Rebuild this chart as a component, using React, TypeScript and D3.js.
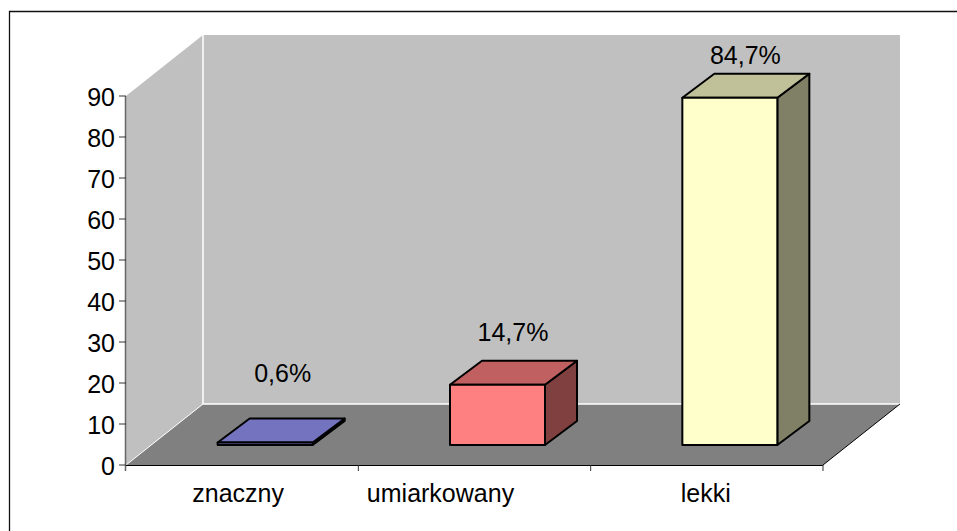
import * as d3 from "d3";

const categories = ["znaczny", "umiarkowany", "lekki"];
const values = [0.6, 14.7, 84.7];
const labels = ["0,6%", "14,7%", "84,7%"];
const frontColors = ["#7373c0", "#ff8080", "#ffffcc"];
const topColors = ["#7373c0", "#c06060", "#c0c099"];
const sideColors = ["#565690", "#804040", "#808066"];
const ticks = d3.range(0, 100, 10);
// hand placed offsets, the original chart doesn't centre these
const categoryShift = [-4, -34, -1];
const labelLift = [36.5, 20, 10];
const labelShift = [65, 63, 63];

const width = 957;
const height = 531;
const left = 126;
const right = 823;
const bottom = 465;
const top90 = 96;
// depth of the whole floor and of one bar
const depthX = 77;
const depthY = 61;
const barWidth = 95;
const barDepthX = 32;
const barDepthY = 24;
const barShiftX = 23;
const barShiftY = 20;

const step = (right - left) / categories.length;
const x = d3
  .scaleBand()
  .domain(categories)
  .range([left, right])
  .paddingInner(1 - barWidth / step)
  .paddingOuter((1 - barWidth / step) / 2);
const y = d3.scaleLinear().domain([0, 90]).range([bottom, top90]);
const poly = d3.line();

export default function App() {
  const wallTop = top90 - depthY;
  return (
    <svg
      width={width}
      height={height}
      style={{ position: "absolute", left: 0, top: 0 }}
      fontFamily="'Liberation Sans', Arial, sans-serif"
    >
      {/* frame is cut off on the right and at the bottom */}
      <path d={poly([[9.5, height], [9.5, 11.5], [width, 11.5]])!} fill="none" stroke="#111" strokeWidth={1.3} />

      {/* walls */}
      <rect x={left + depthX} y={wallTop} width={right - left} height={bottom - top90} fill="#c0c0c0" />
      <path
        d={poly([[left, top90], [left + depthX, wallTop], [left + depthX, bottom - depthY], [left, bottom]])!}
        fill="#c0c0c0"
      />
      <path
        d={poly([[left + depthX, bottom - depthY], [left, bottom], [right, bottom], [right + depthX, bottom - depthY]])!}
        fill="#808080"
      />
      <path
        d={poly([[left + depthX, wallTop], [left + depthX, bottom - depthY], [right + depthX, bottom - depthY]])!}
        fill="none"
        stroke="#fff"
        strokeWidth={1.5}
      />
      <line x1={left} y1={bottom} x2={left + depthX} y2={bottom - depthY} stroke="#fff" />
      <line x1={right} y1={bottom} x2={right + depthX} y2={bottom - depthY} stroke="#000" />

      {/* axes */}
      <line x1={left - 0.5} y1={top90} x2={left - 0.5} y2={bottom + 6} stroke="#666" strokeWidth={1.5} />
      <line x1={left} y1={bottom + 0.5} x2={right} y2={bottom + 0.5} stroke="#000" strokeWidth={1} />
      {ticks.map((t) => (
        <g key={t}>
          <line x1={left - 7} x2={left} y1={y(t)} y2={y(t)} stroke="#333" />
          <text x={left - 11} y={y(t) + 9.5} textAnchor="end" fontSize={25} fill="#000">
            {t}
          </text>
        </g>
      ))}
      {d3.range(1, 4).map((i) => {
        const px = left + i * step;
        return <line key={i} x1={px} x2={px} y1={bottom} y2={bottom + 6} stroke="#333" />;
      })}
      {categories.map((c, i) => (
        <text
          key={c}
          x={x(c)! + x.bandwidth() / 2 + categoryShift[i]}
          y={502}
          textAnchor="middle"
          fontSize={25}
          fill="#000"
        >
          {c}
        </text>
      ))}

      {/* bars */}
      {categories.map((c, i) => {
        const x0 = x(c)! + barShiftX;
        const x1 = x0 + x.bandwidth();
        const yb = bottom - barShiftY;
        const yt = y(values[i]) - barShiftY;
        const dx = barDepthX;
        const dy = barDepthY;
        return (
          <g key={c} stroke="#000" strokeWidth={2} strokeLinejoin="round">
            <path
              d={poly([[x1, yb], [x1 + dx, yb - dy], [x1 + dx, yt - dy], [x1, yt]])! + "Z"}
              fill={sideColors[i]}
            />
            <path
              d={poly([[x0, yt], [x0 + dx, yt - dy], [x1 + dx, yt - dy], [x1, yt]])! + "Z"}
              fill={topColors[i]}
            />
            <rect x={x0} y={yt} width={x.bandwidth()} height={yb - yt} fill={frontColors[i]} />
            <text
              x={x0 + labelShift[i]}
              y={yt - dy - labelLift[i]}
              textAnchor="middle"
              fontSize={25}
              fill="#000"
              stroke="none"
            >
              {labels[i]}
            </text>
          </g>
        );
      })}
    </svg>
  );
}
